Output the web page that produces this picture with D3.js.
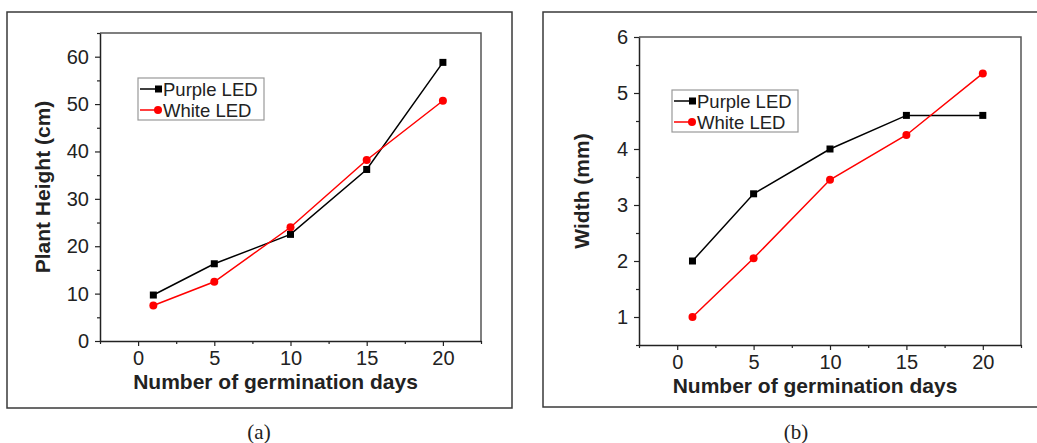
<!DOCTYPE html>
<html>
<head>
<meta charset="utf-8">
<script src="https://cdn.jsdelivr.net/npm/d3@7"></script>
<style>
  body { margin: 0; background: #fff; }
  svg { display: block; }
  .tick text { font-family: "Liberation Sans", Arial, sans-serif; }
</style>
</head>
<body>
<div id="chart"></div>
<script>
// values
const days = [1, 5, 10, 15, 20];
const heightPurple = [9.7, 16.3, 22.5, 36.2, 58.8];
const heightWhite = [7.5, 12.5, 24.0, 38.2, 50.7];
const widthPurple = [2.0, 3.2, 4.0, 4.6, 4.6];
const widthWhite = [1.0, 2.05, 3.45, 4.25, 5.35];
const seriesNames = ["Purple LED", "White LED"];
const seriesColors = ["#000000", "#ff0000"];
const xTicks = [0, 5, 10, 15, 20];
const xMinor = [-2.5, 2.5, 7.5, 12.5, 17.5, 22.5];
const heightTicks = [0, 10, 20, 30, 40, 50, 60];
const heightMinor = [5, 15, 25, 35, 45, 55, 65];
const widthTicks = [1, 2, 3, 4, 5, 6];
const widthMinor = [0.5, 1.5, 2.5, 3.5, 4.5, 5.5];

const svg = d3.select("#chart").append("svg")
    .attr("width", 1037)
    .attr("height", 443);

function Panel(opts) {
    this.opts = opts;
}

Panel.prototype = {
    constructor: Panel,

    draw: function() {
        let o = this.opts;

        // outer frame
        svg.append("rect")
            .attr("x", o.frame[0]).attr("y", o.frame[1])
            .attr("width", o.frame[2]).attr("height", o.frame[3])
            .attr("fill", "none").attr("stroke", "#3a3a3a").attr("stroke-width", 1.5);

        svg.append("text")
            .attr("x", o.caption[0]).attr("y", o.caption[1])
            .attr("text-anchor", "middle")
            .attr("font-family", "'Liberation Serif', 'Times New Roman', serif")
            .attr("font-size", 21)
            .attr("fill", "#222")
            .text(o.captionText);

        let x = d3.scaleLinear().domain([-2.5, 22.5]).range([o.left, o.right]);
        let y = d3.scaleLinear().domain(o.yDomain).range([o.bottom, o.top]);

        let g = svg.append("g");

        // box on top and right
        g.append("path")
            .attr("d", "M" + o.left + "," + o.top + "H" + o.right + "V" + o.bottom)
            .attr("fill", "none").attr("stroke", "#555").attr("stroke-width", 1.5);

        // minor ticks
        g.append("g")
            .attr("transform", "translate(0," + o.bottom + ")")
            .call(d3.axisBottom(x).tickValues(xMinor).tickSize(3).tickFormat(""))
            .call(a => a.select(".domain").remove());
        g.append("g")
            .attr("transform", "translate(" + o.left + ",0)")
            .call(d3.axisLeft(y).tickValues(o.yMinor).tickSize(3).tickFormat(""))
            .call(a => a.select(".domain").remove());

        let xAxis = g.append("g")
            .attr("transform", "translate(0," + o.bottom + ")")
            .call(d3.axisBottom(x).tickValues(xTicks).tickSize(5).tickSizeOuter(0)
                .tickPadding(5).tickFormat(d3.format("d")));
        let yAxis = g.append("g")
            .attr("transform", "translate(" + o.left + ",0)")
            .call(d3.axisLeft(y).tickValues(o.yTicks).tickSize(5).tickSizeOuter(0)
                .tickPadding(6).tickFormat(d3.format("d")));

        [xAxis, yAxis].forEach(function(a) {
            a.selectAll(".tick text").attr("font-size", 20).attr("fill", "#222");
            a.select(".domain").attr("stroke", "#222").attr("stroke-width", 1.5);
        });
        g.selectAll(".tick line").attr("stroke", "#222").attr("stroke-width", 1.2);

        // axis titles
        svg.append("text")
            .attr("x", (o.left + o.right) / 2 - 15)
            .attr("y", o.bottom + 48)
            .attr("text-anchor", "middle")
            .attr("font-family", "'Liberation Sans', Arial, sans-serif")
            .attr("font-weight", "bold").attr("font-size", 21).attr("fill", "#222")
            .text("Number of germination days");

        svg.append("text")
            .attr("transform", "translate(" + (o.left - 50) + "," + ((o.top + o.bottom) / 2) + ") rotate(-90)")
            .attr("text-anchor", "middle")
            .attr("font-family", "'Liberation Sans', Arial, sans-serif")
            .attr("font-weight", "bold").attr("font-size", 21).attr("fill", "#222")
            .text(o.yTitle);

        let line = d3.line()
            .x(function(d) { return x(d[0]); })
            .y(function(d) { return y(d[1]); });

        o.series.forEach(function(vals, i) {
            let pts = days.map(function(d, j) { return [d, vals[j]]; });
            g.append("path")
                .attr("d", line(pts))
                .attr("fill", "none")
                .attr("stroke", seriesColors[i])
                .attr("stroke-width", 1.5);
            if (i === 0) {
                g.selectAll(null).data(pts).enter().append("rect")
                    .attr("x", d => x(d[0]) - 3.5).attr("y", d => y(d[1]) - 3.5)
                    .attr("width", 7).attr("height", 7)
                    .attr("fill", seriesColors[i]);
            } else {
                g.selectAll(null).data(pts).enter().append("circle")
                    .attr("cx", d => x(d[0])).attr("cy", d => y(d[1]))
                    .attr("r", 4)
                    .attr("fill", seriesColors[i]);
            }
        });

        // legend
        let lg = svg.append("g").attr("transform", "translate(" + o.legend[0] + "," + o.legend[1] + ")");
        lg.append("rect")
            .attr("width", 126).attr("height", 42)
            .attr("fill", "#fff").attr("stroke", "#999").attr("stroke-width", 1.2);
        seriesNames.forEach(function(name, i) {
            let cy = 11 + i * 21;
            lg.append("line")
                .attr("x1", 2).attr("x2", 20).attr("y1", cy).attr("y2", cy)
                .attr("stroke", seriesColors[i]).attr("stroke-width", 1.5);
            if (i === 0) {
                lg.append("rect").attr("x", 17).attr("y", cy - 3.5).attr("width", 7).attr("height", 7)
                    .attr("fill", seriesColors[i]);
            } else {
                lg.append("circle").attr("cx", 20).attr("cy", cy).attr("r", 4)
                    .attr("fill", seriesColors[i]);
            }
            lg.append("text")
                .attr("x", 25).attr("y", cy)
                .attr("dy", "0.36em")
                .attr("font-family", "'Liberation Sans', Arial, sans-serif")
                .attr("font-size", 18.5).attr("fill", "#222")
                .text(name);
        });
    }
};

new Panel({
    frame: [7, 12, 505, 396],
    caption: [259, 439], captionText: "(a)",
    left: 100, right: 481, top: 33, bottom: 341,
    yDomain: [0, 65], yTicks: heightTicks, yMinor: heightMinor,
    yTitle: "Plant Height (cm)",
    series: [heightPurple, heightWhite],
    legend: [138, 78]
}).draw();

new Panel({
    frame: [543, 12, 500, 395],
    caption: [796, 439], captionText: "(b)",
    left: 639, right: 1021, top: 37, bottom: 345,
    yDomain: [0.5, 6], yTicks: widthTicks, yMinor: widthMinor,
    yTitle: "Width (mm)",
    series: [widthPurple, widthWhite],
    legend: [672, 90]
}).draw();
</script>
</body>
</html>
